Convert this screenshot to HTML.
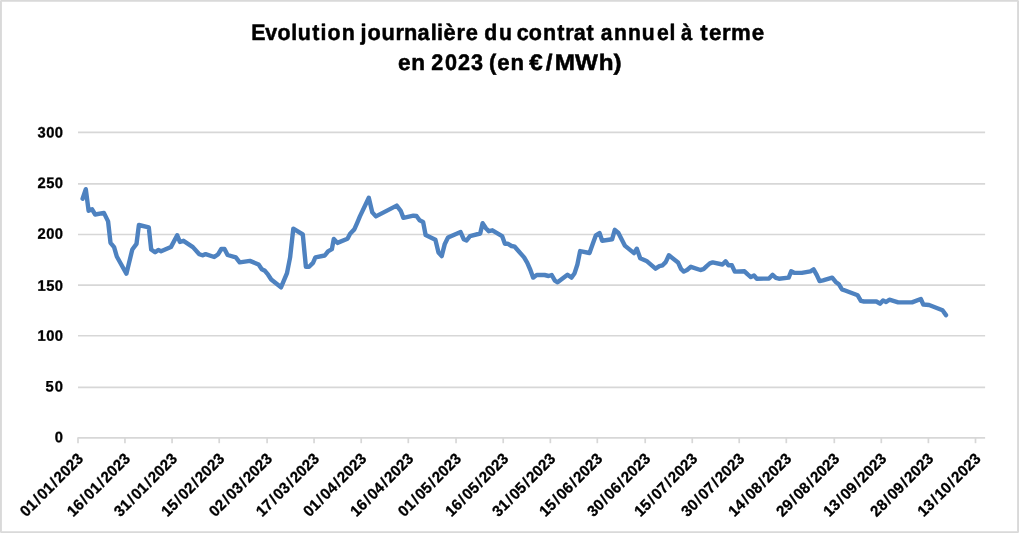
<!DOCTYPE html>
<html lang="fr">
<head>
<meta charset="utf-8">
<title>Evolution journalière du contrat annuel à terme en 2023 (en €/MWh)</title>
<style>
html,body{margin:0;padding:0;background:#fff;}
body{width:1019px;height:533px;overflow:hidden;font-family:"Liberation Sans",sans-serif;}
svg{display:block;}
text{font-family:"Liberation Sans",sans-serif;font-weight:bold;fill:#000;white-space:pre;}
.title{font-size:22.5px;stroke:#000;stroke-width:0.5px;stroke-linejoin:round;}
.ylab{font-size:15.2px;stroke:#000;stroke-width:0.3px;}
.xlab{font-size:15px;stroke:#000;stroke-width:0.3px;}
</style>
</head>
<body>
<svg width="1019" height="533" viewBox="0 0 1019 533">
<rect x="0" y="0" width="1019" height="533" fill="#ffffff"/>
<g shape-rendering="crispEdges">
<rect x="0" y="1" width="1019" height="1" fill="#e2e2e2"/>
<rect x="0" y="531" width="1019" height="1" fill="#e2e2e2"/>
<rect x="1" y="0" width="1" height="533" fill="#dcdcdc"/>
<rect x="1017" y="0" width="1" height="533" fill="#dcdcdc"/>
<rect x="0" y="0" width="1019" height="1" fill="#d9d9d9"/>
<rect x="0" y="532" width="1019" height="1" fill="#d9d9d9"/>
<rect x="0" y="0" width="1" height="533" fill="#d9d9d9"/>
<rect x="1018" y="0" width="1" height="533" fill="#d9d9d9"/>
<rect x="0" y="0" width="1" height="1" fill="#e6e6e6"/>
<rect x="1018" y="0" width="1" height="1" fill="#e6e6e6"/>
<rect x="0" y="532" width="1" height="1" fill="#e6e6e6"/>
<rect x="1018" y="532" width="1" height="1" fill="#e6e6e6"/>
</g>
<text class="title" transform="matrix(1 0 0.0005 1 0 39.55)" y="0"><tspan x="251.13 265.31 277.62 291.33 297.83 312.34 320.58 327.47 341.66" textLength="97.43" lengthAdjust="spacingAndGlyphs">Evolution</tspan> <tspan x="360.55 367.45 381.41 395.38 404.04 417.6 430.73 437.03 443.55 456.58 465.65" textLength="111.29" lengthAdjust="spacingAndGlyphs">journalière</tspan> <tspan x="484.36 498.92" textLength="25.96" lengthAdjust="spacingAndGlyphs">du</tspan> <tspan x="516.75 528.82 542.91 557.21 565.22 573.76 586.56" textLength="73.03" lengthAdjust="spacingAndGlyphs">contrat</tspan> <tspan x="600.84 613.89 628.04 641.81 656.88 669.62" textLength="68.04" lengthAdjust="spacingAndGlyphs">annuel</tspan> <tspan x="680.89" textLength="11.26" lengthAdjust="spacingAndGlyphs">à</tspan> <tspan x="700.15 709.12 721.98 731.02 751.72" textLength="60.51" lengthAdjust="spacingAndGlyphs">terme</tspan></text>
<text class="title" transform="matrix(1 0 0.0005 1 0 70.3)" y="0"><tspan x="398.02 411.3" textLength="26.33" lengthAdjust="spacingAndGlyphs">en</tspan> <tspan x="431.3 444.94 458.05 471.01" textLength="48.11" lengthAdjust="spacingAndGlyphs">2023</tspan> <tspan x="489.02 497.34 510.42" textLength="33.22" lengthAdjust="spacingAndGlyphs">(en</tspan> <tspan x="529.38 545.83 554.67 575.14 598.84 613.54" textLength="86.43" lengthAdjust="spacingAndGlyphs">€/MWh)</tspan></text>
<g stroke="#d7d7d7" stroke-width="1.7" fill="none">
<line x1="78" y1="132.3" x2="985.1" y2="132.3"/>
<line x1="78" y1="183.9" x2="985.1" y2="183.9"/>
<line x1="78" y1="234.5" x2="985.1" y2="234.5"/>
<line x1="78" y1="285.1" x2="985.1" y2="285.1"/>
<line x1="78" y1="335.75" x2="985.1" y2="335.75"/>
<line x1="78" y1="387.3" x2="985.1" y2="387.3"/>
<line x1="77.4" y1="437.9" x2="985.1" y2="437.9"/>
<line x1="78" y1="437.9" x2="78" y2="443.2"/>
<line x1="124.95" y1="437.9" x2="124.95" y2="443.2"/>
<line x1="172.06" y1="437.9" x2="172.06" y2="443.2"/>
<line x1="219.2" y1="437.9" x2="219.2" y2="443.2"/>
<line x1="267.1" y1="437.9" x2="267.1" y2="443.2"/>
<line x1="314.06" y1="437.9" x2="314.06" y2="443.2"/>
<line x1="361.2" y1="437.9" x2="361.2" y2="443.2"/>
<line x1="408.3" y1="437.9" x2="408.3" y2="443.2"/>
<line x1="456.05" y1="437.9" x2="456.05" y2="443.2"/>
<line x1="503.2" y1="437.9" x2="503.2" y2="443.2"/>
<line x1="550.35" y1="437.9" x2="550.35" y2="443.2"/>
<line x1="597.3" y1="437.9" x2="597.3" y2="443.2"/>
<line x1="645.2" y1="437.9" x2="645.2" y2="443.2"/>
<line x1="692.25" y1="437.9" x2="692.25" y2="443.2"/>
<line x1="739.2" y1="437.9" x2="739.2" y2="443.2"/>
<line x1="786.3" y1="437.9" x2="786.3" y2="443.2"/>
<line x1="834.3" y1="437.9" x2="834.3" y2="443.2"/>
<line x1="881.3" y1="437.9" x2="881.3" y2="443.2"/>
<line x1="928.4" y1="437.9" x2="928.4" y2="443.2"/>
<line x1="975.5" y1="437.9" x2="975.5" y2="443.2"/>
</g>
<text class="ylab" transform="matrix(0.97 0.002 0 1 0 137.4)" x="38.56 47.64 56.51" y="0">300</text>
<text class="ylab" transform="matrix(0.97 0.002 0 1 0 188)" x="38.56 47.64 56.51" y="0">250</text>
<text class="ylab" transform="matrix(0.97 0.002 0 1 0 238.7)" x="38.56 47.64 56.51" y="0">200</text>
<text class="ylab" transform="matrix(0.97 0.002 0 1 0 290.6)" x="38.56 47.64 56.51" y="0">150</text>
<text class="ylab" transform="matrix(0.97 0.002 0 1 0 340.7)" x="38.56 47.64 56.51" y="0">100</text>
<text class="ylab" transform="matrix(0.97 0.002 0 1 0 391.5)" x="46.97 56.56" y="0">50</text>
<text class="ylab" transform="matrix(0.97 0.002 0 1 0 442.2)" x="56.51" y="0">0</text>
<text class="xlab" transform="translate(85.06 458.61) rotate(-45) scale(1 1.03)" x="-83.26 -74.72 -64.92 -59.28 -50.74 -40.93 -35.3 -26.76 -18.22 -9.68">01/01/2023</text>
<text class="xlab" transform="translate(132.01 458.61) rotate(-45) scale(1 1.03)" x="-83.26 -74.72 -64.92 -59.28 -50.74 -40.93 -35.3 -26.76 -18.22 -9.68">16/01/2023</text>
<text class="xlab" transform="translate(179.12 458.61) rotate(-45) scale(1 1.03)" x="-83.26 -74.72 -64.92 -59.28 -50.74 -40.93 -35.3 -26.76 -18.22 -9.68">31/01/2023</text>
<text class="xlab" transform="translate(226.26 458.61) rotate(-45) scale(1 1.03)" x="-83.26 -74.72 -64.92 -59.28 -50.74 -40.93 -35.3 -26.76 -18.22 -9.68">15/02/2023</text>
<text class="xlab" transform="translate(274.16 458.61) rotate(-45) scale(1 1.03)" x="-83.26 -74.72 -64.92 -59.28 -50.74 -40.93 -35.3 -26.76 -18.22 -9.68">02/03/2023</text>
<text class="xlab" transform="translate(321.12 458.61) rotate(-45) scale(1 1.03)" x="-83.26 -74.72 -64.92 -59.28 -50.74 -40.93 -35.3 -26.76 -18.22 -9.68">17/03/2023</text>
<text class="xlab" transform="translate(368.26 458.61) rotate(-45) scale(1 1.03)" x="-83.26 -74.72 -64.92 -59.28 -50.74 -40.93 -35.3 -26.76 -18.22 -9.68">01/04/2023</text>
<text class="xlab" transform="translate(415.36 458.61) rotate(-45) scale(1 1.03)" x="-83.26 -74.72 -64.92 -59.28 -50.74 -40.93 -35.3 -26.76 -18.22 -9.68">16/04/2023</text>
<text class="xlab" transform="translate(463.11 458.61) rotate(-45) scale(1 1.03)" x="-83.26 -74.72 -64.92 -59.28 -50.74 -40.93 -35.3 -26.76 -18.22 -9.68">01/05/2023</text>
<text class="xlab" transform="translate(510.26 458.61) rotate(-45) scale(1 1.03)" x="-83.26 -74.72 -64.92 -59.28 -50.74 -40.93 -35.3 -26.76 -18.22 -9.68">16/05/2023</text>
<text class="xlab" transform="translate(557.41 458.61) rotate(-45) scale(1 1.03)" x="-83.26 -74.72 -64.92 -59.28 -50.74 -40.93 -35.3 -26.76 -18.22 -9.68">31/05/2023</text>
<text class="xlab" transform="translate(604.36 458.61) rotate(-45) scale(1 1.03)" x="-83.26 -74.72 -64.92 -59.28 -50.74 -40.93 -35.3 -26.76 -18.22 -9.68">15/06/2023</text>
<text class="xlab" transform="translate(652.26 458.61) rotate(-45) scale(1 1.03)" x="-83.26 -74.72 -64.92 -59.28 -50.74 -40.93 -35.3 -26.76 -18.22 -9.68">30/06/2023</text>
<text class="xlab" transform="translate(699.31 458.61) rotate(-45) scale(1 1.03)" x="-83.26 -74.72 -64.92 -59.28 -50.74 -40.93 -35.3 -26.76 -18.22 -9.68">15/07/2023</text>
<text class="xlab" transform="translate(746.26 458.61) rotate(-45) scale(1 1.03)" x="-83.26 -74.72 -64.92 -59.28 -50.74 -40.93 -35.3 -26.76 -18.22 -9.68">30/07/2023</text>
<text class="xlab" transform="translate(793.36 458.61) rotate(-45) scale(1 1.03)" x="-83.26 -74.72 -64.92 -59.28 -50.74 -40.93 -35.3 -26.76 -18.22 -9.68">14/08/2023</text>
<text class="xlab" transform="translate(841.36 458.61) rotate(-45) scale(1 1.03)" x="-83.26 -74.72 -64.92 -59.28 -50.74 -40.93 -35.3 -26.76 -18.22 -9.68">29/08/2023</text>
<text class="xlab" transform="translate(888.36 458.61) rotate(-45) scale(1 1.03)" x="-83.26 -74.72 -64.92 -59.28 -50.74 -40.93 -35.3 -26.76 -18.22 -9.68">13/09/2023</text>
<text class="xlab" transform="translate(935.46 458.61) rotate(-45) scale(1 1.03)" x="-83.26 -74.72 -64.92 -59.28 -50.74 -40.93 -35.3 -26.76 -18.22 -9.68">28/09/2023</text>
<text class="xlab" transform="translate(982.56 458.61) rotate(-45) scale(1 1.03)" x="-83.26 -74.72 -64.92 -59.28 -50.74 -40.93 -35.3 -26.76 -18.22 -9.68">13/10/2023</text>
<path d="M82.6 198.7 L85.8 189.2 L88.6 210.8 L92.1 209.3 L95.2 214.5 L103.9 212.9 L108.1 221.4 L110.5 242.8 L114.1 247.1 L116.8 256.5 L126.4 273.7 L132.3 249.5 L136.5 243.9 L138.9 225 L148.8 227.4 L151.2 249.5 L155.1 252.3 L158.3 249.9 L161.1 251.3 L170.9 247.1 L177.2 235.3 L179.9 241.9 L183.5 240.8 L192.9 247.1 L199.3 254.2 L202.4 255.3 L205.6 254.2 L214.2 257 L218.2 254.2 L221.3 249 L224.5 249 L227.6 255 L235.8 257.4 L239.7 262.4 L249.9 260.9 L258.6 264.5 L261.8 269.2 L264.9 270.8 L268.1 274.7 L271.2 279.5 L281 287.3 L287 273.1 L290.1 257.4 L293.3 228.7 L302.8 234.5 L305.9 266.8 L309.1 266.8 L313 262.9 L315.4 257.4 L324.8 255.5 L328 251.4 L331.9 249.2 L333.8 238.9 L337.4 242.9 L347.5 238.7 L350.1 233.7 L354.3 229.4 L357.3 222.6 L359.9 216.4 L368.8 197.8 L372.3 212.4 L375.9 216.4 L396.7 205.6 L400.7 210.8 L403.4 217.9 L413.4 215.7 L416.5 216 L419.6 220.3 L423.1 221.9 L425.6 235 L435.4 239.7 L438.5 252.6 L441.7 256.1 L444.8 243.9 L448 237.6 L460.6 232.1 L463.7 239.2 L466.6 240.5 L470 236.1 L480.2 233.5 L482.6 223.2 L485.9 228.2 L488.8 231.2 L492.4 230.3 L502.1 236.1 L504.9 243.7 L507.6 243.7 L511.5 246 L514.7 246.7 L524.1 257.4 L527.3 262.9 L530.4 270 L533.1 277.6 L536.7 275 L544.6 275 L548.6 276 L551.7 275 L554.9 280.7 L557.6 282.3 L567.5 274.7 L571.4 277.6 L574.6 273.2 L577.4 264.5 L580.1 251.1 L589.5 253 L592.7 244 L595.9 235.3 L599.5 233 L602.2 240.8 L612.1 239.3 L614.8 229.8 L618.4 233 L624.8 245.6 L634 253.1 L636.8 248.7 L640.2 258.2 L646.5 260.9 L655.5 268.7 L659.4 266.1 L662.6 265.3 L665.7 262.1 L668.9 255.3 L678 262.4 L681.2 269.2 L683.8 271.6 L687 270 L690.9 266.8 L700.4 270 L703.5 269.2 L706.7 266.1 L709.8 263.4 L712.7 262.4 L722.5 264.5 L725.6 261.3 L728.4 265.3 L731.9 265.3 L734.8 271.6 L744.5 271.3 L747.7 274.4 L750.8 277.1 L754 275.5 L756.8 278.7 L769 278.5 L772.6 274.8 L775.9 277.9 L778.9 278.7 L788.7 277.6 L791.2 271.3 L794.7 272.9 L801.8 272.9 L810.4 271.3 L813.6 269.3 L816.7 274.8 L819.6 281.1 L823 280.3 L832.2 277.6 L835.7 281.9 L838.8 284.2 L842 289.4 L845.1 290.5 L857.7 295.3 L860.9 300.8 L864 301.5 L876.4 301.5 L880 303.7 L883 300.4 L886.1 302 L889.3 299.7 L898.2 302.4 L912 302.4 L920.8 299 L923.3 304.5 L929.1 305 L942.5 310.3 L946 315.1" fill="none" stroke="#4e82c0" stroke-width="4.4" stroke-linejoin="round" stroke-linecap="round"/>
</svg>
</body>
</html>
